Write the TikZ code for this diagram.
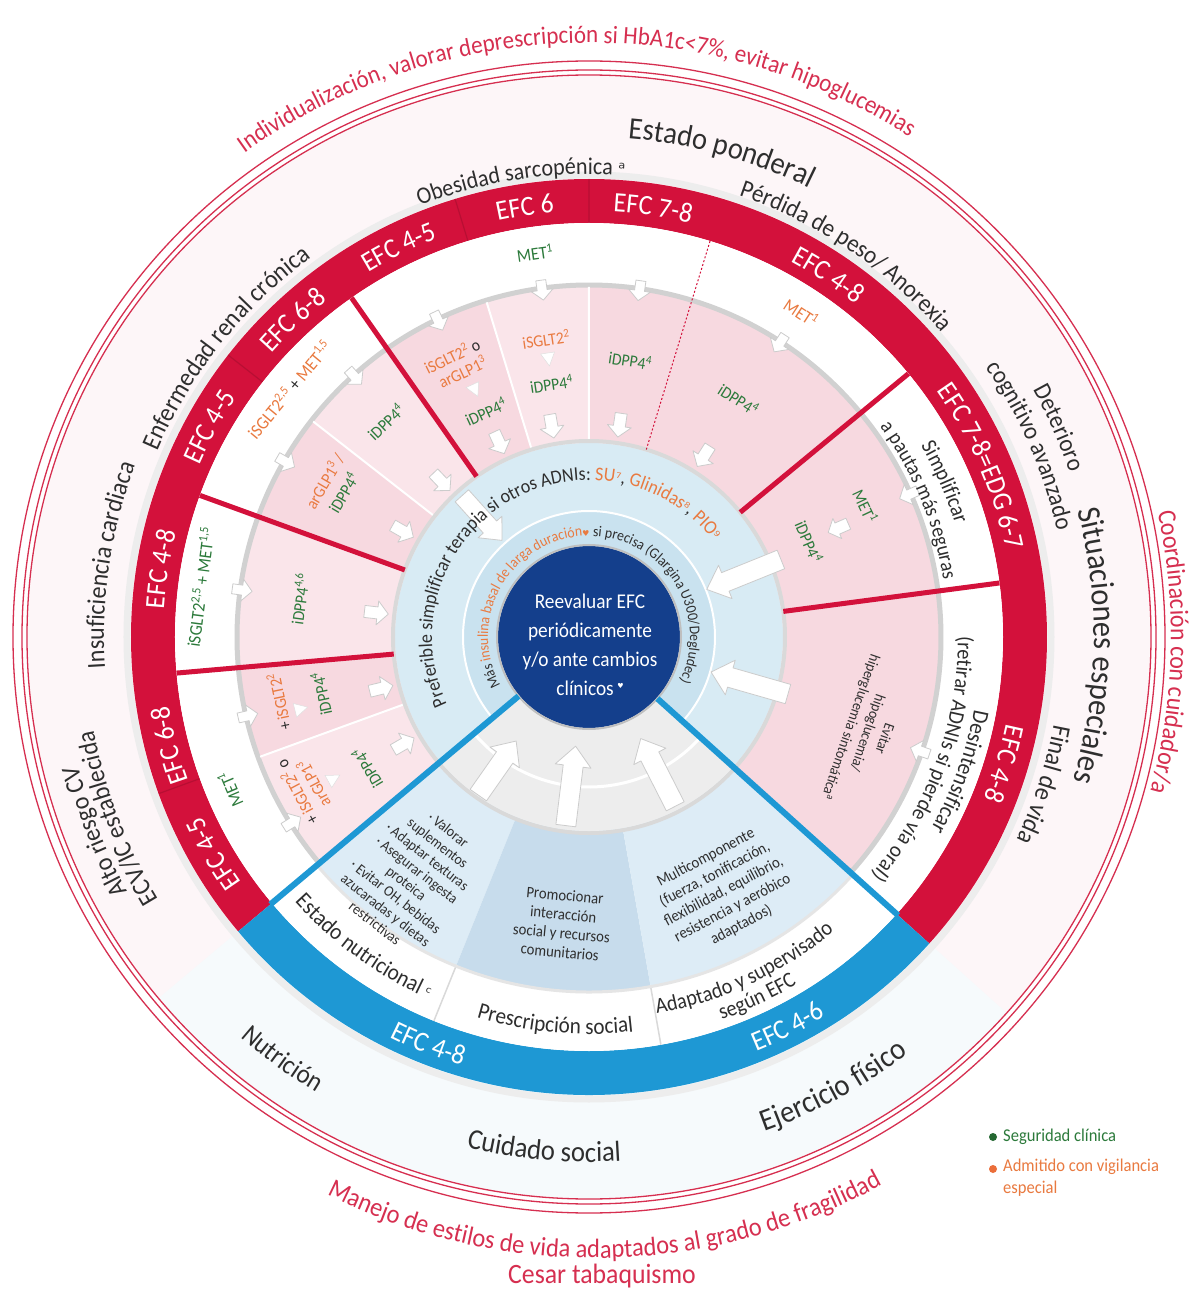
\documentclass[tikz,border=0pt]{standalone}
\usepackage{fontspec}
\setmainfont[FakeStretch=0.92]{Carlito}
\newfontfamily\dv{DejaVu Sans}
\usetikzlibrary{decorations.text}
\definecolor{crim}{HTML}{D3113B}
\definecolor{rtxt}{HTML}{D62F50}
\definecolor{cyanb}{HTML}{1E98D4}
\definecolor{navy}{HTML}{143F8C}
\definecolor{pinkA}{HTML}{F7D9E0}
\definecolor{pinkB}{HTML}{FAE5EA}
\definecolor{lblue}{HTML}{D8EBF4}
\definecolor{lblue2}{HTML}{C9E2EF}
\definecolor{sblue}{HTML}{DDECF6}
\definecolor{sblue2}{HTML}{C7DCEC}
\definecolor{grn}{HTML}{2C7A3B}
\definecolor{org}{HTML}{E97A40}
\definecolor{txt}{HTML}{2E2E2E}
\definecolor{halo}{HTML}{FDF6F8}
\definecolor{haloB}{HTML}{F6FAFC}
\newcommand\fs[2]{\fontsize{#1}{#2}\selectfont}
% annulus sector: theta1, theta2, r_in, r_out, style
\newcommand\ann[5]{\fill[#5] (#1:#4) arc[start angle=#1, end angle=#2, radius=#4] -- (#2:#3) arc[start angle=#2, end angle=#1, radius=#3] -- cycle;}
% clockwise arc text (tops outward): r, centre angle, half span, format, text
\newcommand\arcT[5]{\path[decorate,decoration={text along path,text align=center,text={|#4|#5}}] (#2+#3:#1) arc[start angle=#2+#3,end angle=#2-#3,radius=#1];}
% counter-clockwise arc text (tops inward)
\newcommand\arcB[5]{\path[decorate,decoration={text along path,text align=center,text={|#4|#5}}] (#2-#3:#1) arc[start angle=#2-#3,end angle=#2+#3,radius=#1];}
% arrow pointing to centre: angle, radius, length, shaft, head width, head length
\newcommand\inarrow[6]{\begin{scope}[shift={(#1:#2)}, rotate=#1]
\filldraw[fill=white, draw=black!20, line width=0.8pt, line join=round] ({#3/2},{#4/2}) -- ({-#3/2+#6},{#4/2}) -- ({-#3/2+#6},{#5/2}) -- ({-#3/2},0) -- ({-#3/2+#6},{-#5/2}) -- ({-#3/2+#6},{-#4/2}) -- ({#3/2},{-#4/2}) -- cycle;
\end{scope}}
\newcommand\tri[2]{\begin{scope}[shift={(#1:#2)}, rotate=#1]
\filldraw[fill=white, draw=black!12, line width=0.5pt] (6,7) -- (6,-7) -- (-7,0) -- cycle;
\end{scope}}
\tikzset{
 lab/.style={inner sep=0pt, align=center, font=\fs{17}{19}},
 gl/.style={lab, text=grn},
 ol/.style={lab, text=org},
 bl/.style={lab, text=txt, font=\fs{16}{19}},
 sep/.style={crim, line width=5pt},
}
\begin{document}
\begin{tikzpicture}[x=1pt,y=1pt]
\useasboundingbox (-589,-659) rectangle (610,637);
\fill[white] (-589,-659) rectangle (610,637);
% halo outside band
\fill[halo, even odd rule] (0,0) circle[radius=561] (0,0) circle[radius=458];
\ann{220}{318}{458}{561}{haloB}
\draw[black!7, line width=7pt] (0,0) circle[radius=462];
% thin outer lines
\draw[rtxt, line width=1.3pt] (0,0) circle[radius=562] (0,0) circle[radius=567] (0,0) circle[radius=576];
% band
\ann{-42}{220}{414}{458}{crim}
\ann{220}{318}{414}{458}{cyanb}
\draw[crim!75!black, line width=1.2pt, opacity=0.5] (90:414) -- (90:458) (107:414) -- (107:458) (142:414) -- (142:458) (200:414) -- (200:458);
% white ring
\fill[white] (0,0) circle[radius=414];
% pink sectors
\ann{-42}{7.5}{194}{352}{pinkA}
\ann{7.5}{39.5}{194}{352}{pinkA}
\ann{39.5}{73}{194}{352}{pinkA}
\ann{73}{90}{194}{352}{pinkA}
\ann{90}{107}{194}{352}{pinkB}
\ann{107}{125}{194}{352}{pinkA}
\ann{125}{142}{194}{352}{pinkB}
\ann{142}{160}{194}{352}{pinkA}
\ann{160}{185}{194}{352}{pinkB}
\ann{185}{200}{194}{352}{pinkA}
\ann{200}{220}{194}{352}{pinkB}
% bottom blue sectors
\ann{220}{248}{194}{354}{sblue}
\ann{248}{280}{194}{354}{sblue2}
\ann{280}{318}{194}{354}{sblue}
\draw[black!15, line width=1.5pt] (248:354) -- (248:414) (280:354) -- (280:414);
% gray notched arcs
\draw[black!18, line width=5pt] (-42:352) arc[start angle=-42, end angle=220, radius=352];
\draw[black!10, line width=3pt] (220:355) arc[start angle=220, end angle=318, radius=355];
\draw[white, line width=2pt] (90:194) -- (90:350) (107:194) -- (107:350) (142:194) -- (142:350) (200:194) -- (200:350);
% inner discs
\fill[lblue] (0,0) circle[radius=194];
\draw[black!15, line width=4pt] (0,0) circle[radius=196];
\fill[lblue2] (0,0) circle[radius=126];
\draw[white, line width=2pt] (0,0) circle[radius=126];
\ann{220}{318}{90}{194}{black!7}
\draw[white, line width=3pt] (220:150) arc[start angle=220, end angle=318, radius=150];
% dark centre
\fill[navy] (0,0) circle[radius=91];
\draw[black!25, line width=2pt] (0,0) circle[radius=92];
% separators
\draw[sep] (7.5:196) -- (7.5:414);
\draw[sep] (39.5:196) -- (39.5:414);
\draw[sep] (125:196) -- (125:414);
\draw[sep] (160:196) -- (160:414);
\draw[sep] (185:196) -- (185:414);
\draw[crim, line width=1pt, dash pattern=on 2pt off 2pt] (73:196) -- (73:414);
\draw[cyanb, line width=6pt] (220:92) -- (220:416) (318:92) -- (318:416);
% big arrows
\inarrow{22}{167}{80}{20}{36}{20}
\inarrow{-16}{167}{80}{20}{36}{20}
\inarrow{132}{160}{60}{18}{32}{18}
\inarrow{235}{160}{66}{20}{36}{20}
\inarrow{263}{150}{80}{20}{36}{20}
\inarrow{297}{152}{76}{20}{36}{20}
% small arrows
\foreach \a in {57.6,81.8,100,114.8,133.5,150.4,173.5,193.9,210}{\inarrow{\a}{214}{24}{12}{24}{11}}
\foreach \a in {115.5,97.7,81.7,57,24,-19,132,150,172.3,193,212}{\inarrow{\a}{350}{20}{10}{22}{10}}
\inarrow{23.6}{272}{22}{12}{22}{10}
\tri{114.8}{272}
\tri{98.3}{281}
\tri{194}{297}
\tri{209}{292}
% centre text
\node[text=white, align=center, font=\fs{21}{29}, inner sep=0pt] (ctr) at (1,-8) {Reevaluar EFC\\periódicamente\\y/o ante cambios\\clínicos\,\raisebox{7pt}{\dv\fs{7}{7}♥}};
% pink area labels
\node[ol, rotate=26] (s1a) at (116:313) {iSGLT2\textsuperscript{2} {\color{txt}o}};
\node[ol, rotate=25.5] (s1b) at (115.5:294) {arGLP1\textsuperscript{3}};
\node[gl, rotate=24.6] (s1c) at (114.6:248) {iDPP4\textsuperscript{4}};
\node[ol, rotate=8.2] (s2a) at (98.2:301) {iSGLT2\textsuperscript{2}};
\node[gl, rotate=8.4] (s2c) at (98.4:256) {iDPP4\textsuperscript{4}};
\node[gl, rotate=-8.5] (s3c) at (81.5:280) {iDPP4\textsuperscript{4}};
\node[gl, font=\fs{18}{20}, rotate=8] (met1) at (98:388) {MET\textsuperscript{1}};
\node[ol, font=\fs{18}{20}, rotate=-33.2] (met2) at (56.8:388) {MET\textsuperscript{1}};
\node[gl, rotate=-32.2] (p1) at (57.8:281) {iDPP4\textsuperscript{4}};
\node[gl, rotate=-64.7] (d1) at (25.3:306) {MET\textsuperscript{1}};
\node[gl, rotate=-66.6] (d2) at (23.4:240) {iDPP4\textsuperscript{4}};
\node[lab, text=txt, font=\fs{15}{18}, rotate=-109] (ev) at (-19:294) {Evitar\\hipoglucemia/\\hiperglucemia sintomática\textsuperscript{a}};
\node[ol, font=\fs{18}{20}, rotate=50.4] (r1) at (140.4:389) {iSGLT2\textsuperscript{2,5} {\color{txt}+} MET\textsuperscript{1,5}};
\node[gl, rotate=43.4] (r2) at (133.4:296) {iDPP4\textsuperscript{4}};
\node[ol, rotate=59.5] (r3) at (149.5:307) {arGLP1\textsuperscript{3}\,/};
\node[gl, rotate=59.6] (r4) at (149.6:285) {iDPP4\textsuperscript{4}};
\node[gl, font=\fs{18}{20}, rotate=82.7] (i1) at (172.7:392) {iSGLT2\textsuperscript{2,5} + MET\textsuperscript{1,5}};
\node[gl, rotate=82.5] (i2) at (172.5:292) {iDPP4\textsuperscript{4,6}};
\node[gl, font=\fs{18}{20}, rotate=113] (a0) at (203:390) {MET\textsuperscript{1}};
\node[ol, rotate=101.8] (a1) at (191.8:317) {{\color{txt}+}\,iSGLT2\textsuperscript{2}};
\node[gl, rotate=102] (a2) at (192:274) {iDPP4\textsuperscript{4}};
\node[ol, rotate=118] (a3) at (208:322) {{\color{txt}+}\,iSGLT2\textsuperscript{2} {\color{txt}o}\\arGLP1\textsuperscript{3}};
\node[gl, rotate=120.6] (a4) at (210.6:258) {iDPP4\textsuperscript{4}};
% bottom sector texts
\node[bl, font=\fs{15}{17}, rotate=-38] (nut) at (233.5:298) {· Valorar\\suplementos\\· Adaptar texturas\\· Asegurar ingesta\\proteica\\· Evitar OH, bebidas\\azucaradas y dietas\\restrictivas};
\node[bl, rotate=-5.3] (soc) at (264.7:288) {Promocionar\\interacción\\social y recursos\\comunitarios};
\node[bl, rotate=27.9] (mul) at (297.9:288) {Multicomponente\\(fuerza, tonificación,\\flexibilidad, equilibrio,\\resistencia y aeróbico\\adaptados)};
% outer red texts
\arcT{594}{91.4}{60}{\rmfamily\fs{25}{25}\color{rtxt}}{Individualización, valorar deprescripción si HbA1c<7{\%}, evitar hipoglucemias}
\arcT{582}{-1.5}{40}{\rmfamily\fs{26}{26}\color{rtxt}}{Coordinación con cuidador/a}
\begin{scope}[shift={(6,-22)}]
\arcB{599}{271}{45}{\rmfamily\fs{26.5}{26.5}\color{rtxt}}{Manejo de estilos de vida adaptados al grado de fragilidad}
\end{scope}
\node[text=rtxt, font=\fs{28}{28}, inner sep=0pt] (ces) at (13,-639) {Cesar tabaquismo};
% category labels
\arcT{500}{74.7}{30}{\rmfamily\fs{31}{31}\color{txt}}{Estado ponderal}
\arcT{463}{98.5}{25}{\rmfamily\fs{24}{24}\color{txt}}{Obesidad sarcopénica |\dv\fs{18}{18}\color{txt}|ᵃ}
\arcT{466}{56}{30}{\rmfamily\fs{25}{25}\color{txt}}{Pérdida de peso/ Anorexia}
\arcT{508}{24}{25}{\rmfamily\fs{25}{25}\color{txt}}{Deterioro}
\arcT{480}{23.5}{25}{\rmfamily\fs{25}{25}\color{txt}}{cognitivo avanzado}
\arcT{505}{-1}{30}{\rmfamily\fs{33}{33}\color{txt}}{Situaciones especiales}
\arcT{473}{-18}{25}{\rmfamily\fs{26}{26}\color{txt}}{Final de vida}
\arcT{470}{141.5}{30}{\rmfamily\fs{26}{26}\color{txt}}{Enfermedad renal crónica}
\arcT{485}{171.5}{30}{\rmfamily\fs{26}{26}\color{txt}}{Insuficiencia cardiaca}
\arcT{527}{201.5}{25}{\rmfamily\fs{26}{26}\color{txt}}{Alto riesgo CV}
\arcT{504}{201}{25}{\rmfamily\fs{26}{26}\color{txt}}{ECV/IC establecida}
\arcB{531}{234}{20}{\rmfamily\fs{27}{27}\color{txt}}{Nutrición}
\arcB{525}{265}{20}{\rmfamily\fs{29}{29}\color{txt}}{Cuidado social}
\arcB{525}{298.5}{20}{\rmfamily\fs{31}{31}\color{txt}}{Ejercicio físico}
% white ring labels
\arcB{396}{234}{20}{\rmfamily\fs{23}{23}\color{txt}}{Estado nutricional |\dv\fs{16}{16}\color{txt}|ᶜ}
\arcB{397}{265}{20}{\rmfamily\fs{23}{23}\color{txt}}{Prescripción social}
\arcB{383}{295}{25}{\rmfamily\fs{22}{22}\color{txt}}{Adaptado y supervisado}
\arcB{405}{295}{20}{\rmfamily\fs{22}{22}\color{txt}}{según EFC}
\arcT{383}{23.5}{20}{\rmfamily\fs{22}{22}\color{txt}}{Simplificar}
\arcT{359}{22.5}{20}{\rmfamily\fs{21}{21}\color{txt}}{a pautas más seguras}
\arcT{392}{-20}{25}{\rmfamily\fs{23}{23}\color{txt}}{Desintensificar}
\arcT{369}{-20}{30}{\rmfamily\fs{22}{22}\color{txt}}{(retirar ADNIs si pierde vía oral)}
% band labels
\arcT{426}{210}{15}{\rmfamily\fs{28}{28}\color{white}}{EFC 4-5}
\arcT{426}{194.5}{15}{\rmfamily\fs{28}{28}\color{white}}{EFC 6-8}
\arcT{426}{171}{15}{\rmfamily\fs{28}{28}\color{white}}{EFC 4-8}
\arcT{426}{151}{15}{\rmfamily\fs{28}{28}\color{white}}{EFC 4-5}
\arcT{426}{133}{15}{\rmfamily\fs{28}{28}\color{white}}{EFC 6-8}
\arcT{426}{116}{15}{\rmfamily\fs{28}{28}\color{white}}{EFC 4-5}
\arcT{426}{98.5}{15}{\rmfamily\fs{28}{28}\color{white}}{EFC 6}
\arcT{426}{81.5}{15}{\rmfamily\fs{28}{28}\color{white}}{EFC 7-8}
\arcT{426}{56.5}{15}{\rmfamily\fs{28}{28}\color{white}}{EFC 4-8}
\arcT{426}{23.5}{25}{\rmfamily\fs{28}{28}\color{white}}{EFC 7-8=EDG 6-7}
\arcT{426}{-17}{15}{\rmfamily\fs{28}{28}\color{white}}{EFC 4-8}
\arcB{447}{248.5}{15}{\rmfamily\fs{28}{28}\color{white}}{EFC 4-8}
\arcB{447}{297}{15}{\rmfamily\fs{28}{28}\color{white}}{EFC 4-6}
% inner ring texts
\arcT{157}{121.5}{100}{\rmfamily\fs{19.5}{19.5}\color{txt}}{Preferible simplificar terapia si otros ADNIs: |\rmfamily\fs{19.5}{19.5}\color{org}|SU|\dv\fs{14}{14}\color{org}|⁷|\rmfamily\fs{19.5}{19.5}\color{txt}|, |\rmfamily\fs{19.5}{19.5}\color{org}|Glinidas|\dv\fs{14}{14}\color{org}|⁸|\rmfamily\fs{19.5}{19.5}\color{txt}|, |\rmfamily\fs{19.5}{19.5}\color{org}|PIO|\dv\fs{14}{14}\color{org}|⁹}
\arcT{101}{91.5}{130}{\rmfamily\fs{15}{15}\color{txt}}{Más |\rmfamily\fs{15}{15}\color{org}|insulina basal de larga duración|\dv\fs{8}{8}\color{org}|♥|\rmfamily\fs{15}{15}\color{txt}| si precisa (Glargina U300/Degludec)}
% legend
\fill[grn!85!black] (404,-500) circle[radius=4];
\node[anchor=west, text=grn, font=\fs{18}{20}, inner sep=0pt] (lg1) at (414,-500) {Seguridad clínica};
\fill[org!90!red] (404,-532) circle[radius=4];
\node[anchor=north west, text=org, align=left, font=\fs{18}{22}, inner sep=0pt] (lg2) at (414,-522) {Admitido con vigilancia\\especial};
\end{tikzpicture}
\end{document}
